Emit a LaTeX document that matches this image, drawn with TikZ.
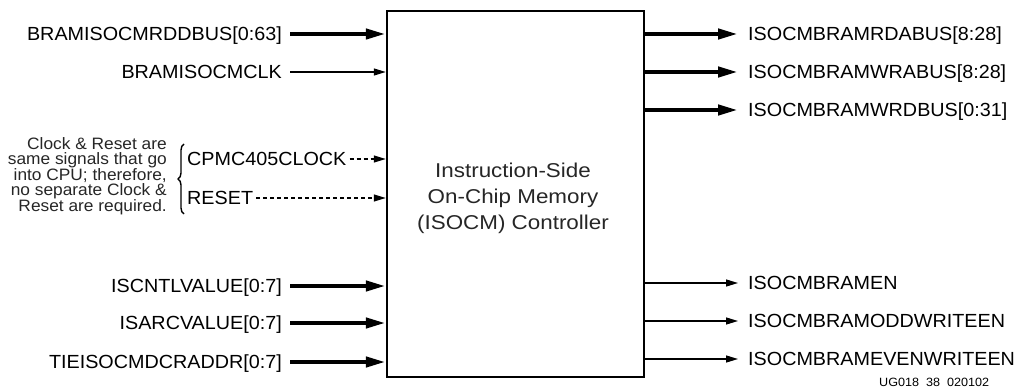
\documentclass[tikz,border=0pt]{standalone}
\usepackage{fontspec}
\setmainfont{Liberation Sans}
\newfontfamily\sigfont[FakeStretch=1.04]{Liberation Sans}
\newfontfamily\titlefont[FakeStretch=1.12]{Liberation Sans}
\newfontfamily\notefont[FakeStretch=1.05]{Liberation Sans}
\usetikzlibrary{arrows.meta,decorations.pathreplacing}
\begin{document}
\begin{tikzpicture}[x=1pt,y=-1pt,
  sig/.style={inner sep=0pt, font=\sigfont\fontsize{19}{22}\selectfont, text height=13.6pt, text depth=0pt},
  bus/.style={line width=4.2pt, -{Triangle[length=20pt,width=10pt]}},
  wire/.style={line width=1.3pt, -{Triangle[length=12pt,width=7pt]}},
  dwire/.style={line width=1.2pt, dash pattern=on 4pt off 3pt, -{Triangle[length=12pt,width=7pt]}},
  blk/.style={draw, line width=2.5pt, minimum width=257pt, minimum height=366pt, inner sep=0pt}]
\useasboundingbox (0,0) rectangle (1016,387);
\node[blk] (box) at (515.5,194) {};
\node[align=center, inner sep=0pt, font=\titlefont\fontsize{20}{26}\selectfont, text=black!85] (title) at (513,198)
  {Instruction-Side\\On-Chip Memory\\(ISOCM) Controller};
% left inputs
\node[sig, anchor=east] (i1) at (282,34) {BRAMISOCMRDDBUS[0:63]};
\node[sig, anchor=east] (i2) at (282,72) {BRAMISOCMCLK};
\node[sig, anchor=west] (i3) at (187,159) {CPMC405CLOCK};
\node[sig, anchor=west] (i4) at (187,198) {RESET};
\node[sig, anchor=east] (i5) at (282,286) {ISCNTLVALUE[0:7]};
\node[sig, anchor=east] (i6) at (282,323) {ISARCVALUE[0:7]};
\node[sig, anchor=east] (i7) at (282,362) {TIEISOCMDCRADDR[0:7]};
\draw[bus] ([xshift=8pt]i1.east) -- (i1.east -| box.west);
\draw[wire] ([xshift=8pt]i2.east) -- (i2.east -| box.west);
\draw[dwire] ([xshift=3pt]i3.east) -- (i3.east -| box.west);
\draw[dwire] ([xshift=3pt]i4.east) -- (i4.east -| box.west);
\draw[bus] ([xshift=8pt]i5.east) -- (i5.east -| box.west);
\draw[bus] ([xshift=8pt]i6.east) -- (i6.east -| box.west);
\draw[bus] ([xshift=8pt]i7.east) -- (i7.east -| box.west);
% brace and note
\coordinate (bb) at (184,214);
\coordinate (bt) at (184,144);
\draw[line width=1.4pt, decorate, decoration={brace, amplitude=6pt}] (bb) -- (bt);
\node[anchor=north east, inner sep=0pt, align=right, font=\notefont\fontsize{16.5}{15.5}\selectfont, text=black!85] (note) at (167,137)
  {Clock \& Reset are\\same signals that go\\into CPU; therefore,\\no separate Clock \&\\Reset are required.};
% right outputs
\node[sig, anchor=west] (o1) at (748,34) {ISOCMBRAMRDABUS[8:28]};
\node[sig, anchor=west] (o2) at (748,72) {ISOCMBRAMWRABUS[8:28]};
\node[sig, anchor=west] (o3) at (748,110) {ISOCMBRAMWRDBUS[0:31]};
\node[sig, anchor=west] (o4) at (748,283) {ISOCMBRAMEN};
\node[sig, anchor=west] (o5) at (748,321) {ISOCMBRAMODDWRITEEN};
\node[sig, anchor=west] (o6) at (748,359) {ISOCMBRAMEVENWRITEEN};
\draw[bus] (o1.west -| box.east) -- ([xshift=-10pt]o1.west);
\draw[bus] (o2.west -| box.east) -- ([xshift=-10pt]o2.west);
\draw[bus] (o3.west -| box.east) -- ([xshift=-10pt]o3.west);
\draw[wire] (o4.west -| box.east) -- ([xshift=-10pt]o4.west);
\draw[wire] (o5.west -| box.east) -- ([xshift=-10pt]o5.west);
\draw[wire] (o6.west -| box.east) -- ([xshift=-10pt]o6.west);
\node[anchor=base west, inner sep=0pt, font=\notefont\fontsize{12}{14}\selectfont] (fig) at (879,386) {UG018\ \ 38\ \ 020102};
\end{tikzpicture}
\end{document}
